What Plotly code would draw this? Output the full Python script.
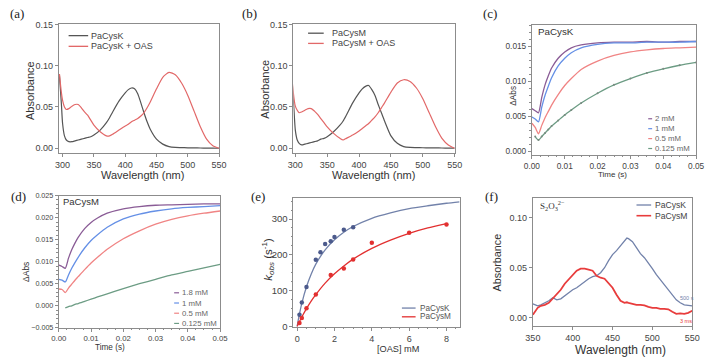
import plotly.graph_objects as go

W, H = 709, 361
FONT = "Liberation Sans, Arial, sans-serif"
SERIF = "Liberation Serif, Times New Roman, serif"

# ---------------- data ----------------
# (a) / (b) absorption spectra
wl_ab = [295, 298, 300, 303, 306, 310, 315, 320, 325, 330, 335, 340, 345, 350, 360, 370, 375, 380, 390, 400,
         405, 410, 415, 420, 425, 430, 435, 440, 450, 460, 470, 480, 490, 500, 510, 520, 530, 540, 550]
cysk_a = [0.088, 0.055, 0.030, 0.015, 0.010, 0.008, 0.008, 0.009, 0.010, 0.011, 0.012, 0.013, 0.014, 0.016, 0.022,
          0.031, 0.037, 0.044, 0.057, 0.067, 0.071, 0.073, 0.072, 0.066, 0.055, 0.043, 0.032, 0.023, 0.011, 0.005,
          0.002, 0.001, 0.0008, 0.0005, 0.0004, 0.0003, 0.0002, 0.0001, 0.0]
cysk_oas_a = [0.090, 0.068, 0.058, 0.050, 0.047, 0.048, 0.051, 0.053, 0.053, 0.049, 0.044, 0.040, 0.034, 0.028, 0.020,
              0.015, 0.015, 0.017, 0.022, 0.027, 0.029, 0.032, 0.034, 0.036, 0.039, 0.043, 0.049, 0.056, 0.072, 0.086,
              0.092, 0.089, 0.079, 0.064, 0.045, 0.026, 0.011, 0.003, 0.0]
cysm_b = [0.082, 0.045, 0.022, 0.010, 0.006, 0.004, 0.005, 0.006, 0.007, 0.008, 0.009, 0.011, 0.012, 0.014, 0.020,
          0.028, 0.033, 0.040, 0.055, 0.067, 0.072, 0.075, 0.076, 0.071, 0.064, 0.053, 0.043, 0.033, 0.015, 0.006,
          0.002, 0.001, 0.0008, 0.0006, 0.0005, 0.0004, 0.0003, 0.0002, 0.0001]
cysm_oas_b = [0.082, 0.060, 0.051, 0.046, 0.043, 0.044, 0.046, 0.048, 0.048, 0.045, 0.041, 0.036, 0.031, 0.026, 0.018,
              0.012, 0.010, 0.012, 0.016, 0.021, 0.024, 0.027, 0.030, 0.034, 0.038, 0.043, 0.049, 0.055, 0.068, 0.079,
              0.083, 0.081, 0.073, 0.060, 0.043, 0.026, 0.012, 0.004, 0.0]

# (c) / (d) stopped-flow kinetics
t_kin = [0, 0.001, 0.002, 0.003, 0.004, 0.005, 0.006, 0.008, 0.010, 0.012, 0.015, 0.020, 0.025, 0.030, 0.035,
         0.040, 0.045, 0.050]
c_labels = ["2 mM", "1 mM", "0.5 mM", "0.125 mM"]
c_2mM = [0.0061, 0.0058, 0.0055, 0.0077, 0.0095, 0.0108, 0.0119, 0.0133, 0.0142, 0.0148, 0.0152, 0.0155, 0.0156,
         0.0156, 0.0157, 0.0156, 0.0157, 0.0157]
c_1mM = [0.0049, 0.0046, 0.0042, 0.0063, 0.0080, 0.0093, 0.0105, 0.0122, 0.0133, 0.0141, 0.0148, 0.0153, 0.0155,
         0.0155, 0.0156, 0.0156, 0.0156, 0.0157]
c_05mM = [0.0040, 0.0034, 0.0025, 0.0037, 0.0048, 0.0057, 0.0066, 0.0081, 0.0094, 0.0104, 0.0117, 0.0129, 0.0137,
          0.0142, 0.0145, 0.0147, 0.0148, 0.0149]
c_0125mM = [None, 0.0021, 0.0016, 0.0021, 0.0026, 0.0031, 0.0036, 0.0044, 0.0052, 0.0059, 0.0069, 0.0083, 0.0095,
            0.0104, 0.0112, 0.0118, 0.0123, 0.0127]
d_labels = ["1.8 mM", "1 mM", "0.5 mM", "0.125 mM"]
d_18mM = [0.0092, 0.0089, 0.0085, 0.0108, 0.0127, 0.0142, 0.0155, 0.0175, 0.0189, 0.0199, 0.0210, 0.0220, 0.0225,
          0.0228, 0.0229, 0.0230, 0.0231, 0.0231]
d_1mM = [0.0060, 0.0058, 0.0054, 0.0070, 0.0085, 0.0098, 0.0110, 0.0131, 0.0148, 0.0161, 0.0178, 0.0197, 0.0208,
         0.0215, 0.0220, 0.0223, 0.0225, 0.0227]
d_05mM = [0.0038, 0.0037, 0.0030, 0.0040, 0.0049, 0.0058, 0.0066, 0.0082, 0.0097, 0.0110, 0.0128, 0.0152, 0.0170,
          0.0185, 0.0196, 0.0204, 0.0210, 0.0215]
d_0125mM = [None, None, -0.0005, -0.0002, 0.0000, 0.0003, 0.0005, 0.0010, 0.0015, 0.0020, 0.0027, 0.0039, 0.0050,
            0.0060, 0.0070, 0.0078, 0.0086, 0.0094]

# (e) kobs vs [OAS]
oas_k = [0.125, 0.25, 0.5, 1.0, 1.25, 1.5, 1.8, 2.0, 2.5, 3.0]
kobs_k = [33, 67, 110, 186, 207, 230, 238, 250, 270, 277]
oas_m = [0.125, 0.25, 0.5, 1.0, 1.8, 2.5, 3.0, 4.0, 6.0, 8.0]
kobs_m = [10, 24, 51, 89, 144, 162, 187, 234, 262, 285]
fit_x_k = [0, 0.1, 0.25, 0.5, 0.75, 1, 1.5, 2, 2.5, 3, 4, 5, 6, 7, 8, 8.7]
fit_y_k = [0, 28.6, 64.5, 111, 146, 174, 214, 242, 263, 279, 302, 317, 329, 337, 344, 348]
fit_x_m = [0, 0.1, 0.25, 0.5, 0.75, 1, 1.5, 2, 2.5, 3, 4, 5, 6, 7, 8]
fit_y_m = [0, 11, 26.6, 50, 71, 89, 121, 147, 169, 188, 218, 241, 260, 275, 287]

# (f) thiosulfate spectra
wl_f = [350, 353, 356, 360, 365, 370, 375, 380, 385, 390, 395, 400, 405, 410, 415, 420, 425, 430, 435, 440, 445,
        450, 455, 460, 465, 468, 470, 475, 480, 485, 490, 495, 500, 505, 510, 515, 520, 525, 530, 535, 540, 545, 550]
f_cysk = [0.014, 0.013, 0.012, 0.013, 0.015, 0.017, 0.020, 0.018, 0.019, 0.022, 0.025, 0.028, 0.030, 0.033, 0.036,
          0.039, 0.041, 0.042, 0.045, 0.050, 0.057, 0.063, 0.067, 0.072, 0.077, 0.0795, 0.079, 0.076, 0.070, 0.064,
          0.060, 0.055, 0.049, 0.043, 0.038, 0.032, 0.027, 0.022, 0.018, 0.015, 0.013, 0.0125, 0.012]
f_cysm = [0.003, 0.007, 0.010, 0.012, 0.013, 0.015, 0.019, 0.024, 0.028, 0.034, 0.038, 0.043, 0.047, 0.049, 0.049,
          0.048, 0.047, 0.042, 0.040, 0.039, 0.035, 0.030, 0.023, 0.017, 0.015, 0.0155, 0.015, 0.014, 0.013, 0.013,
          0.0125, 0.011, 0.010, 0.010, 0.009, 0.009, 0.0085, 0.006, 0.004, 0.0045, 0.004, 0.005, 0.007]

# ---------------- styles ----------------
GRAY_LINE = "#555555"
RED_LINE = "#e26868"
KIN_COLORS = ["#8a5c96", "#6590e6", "#f08484", "#6c9c84"]
SLATE = "#7282aa"
SLATE_DARK = "#4c5a8c"
RED_E = "#e23030"
RED_F = "#e83c3c"
FRAME = "#8c8c8c"

panels = {
    1: (52, 216, 20, 152),
    2: (292, 457, 20, 152),
    3: (536, 704, 21, 154),
    4: (52, 217, 196, 332),
    5: (292, 462, 198, 331),
    6: (537, 700, 198, 330),
}


def px(x):
    return x / W


def py(y):
    return 1 - y / H


fig = go.Figure()


def add_line(n, x, y, color, width=1.2, shape="spline", name=""):
    sfx = "" if n == 1 else str(n)
    fig.add_trace(go.Scatter(x=x, y=y, mode="lines", name=name, showlegend=False,
                             line=dict(color=color, width=width, shape=shape, smoothing=0.6),
                             xaxis="x" + sfx, yaxis="y" + sfx, connectgaps=False))


# (a)
add_line(1, wl_ab, cysk_a, GRAY_LINE, name="PaCysK")
add_line(1, wl_ab, cysk_oas_a, RED_LINE, name="PaCysK + OAS")
# (b)
add_line(2, wl_ab, cysm_b, GRAY_LINE, name="PaCysM")
add_line(2, wl_ab, cysm_oas_b, RED_LINE, name="PaCysM + OAS")
# (c)
for series, col in zip([c_2mM, c_1mM, c_05mM, c_0125mM], KIN_COLORS):
    add_line(3, t_kin, series, col, width=1.3)
fig.add_trace(go.Scatter(x=t_kin, y=c_0125mM, mode="markers", showlegend=False,
                         marker=dict(size=2, color="#7a8a80"), xaxis="x3", yaxis="y3"))
# (d)
for series, col in zip([d_18mM, d_1mM, d_05mM, d_0125mM], KIN_COLORS):
    add_line(4, t_kin, series, col, width=1.3)
# (e)
add_line(5, fit_x_k, fit_y_k, SLATE, width=1.3)
add_line(5, fit_x_m, fit_y_m, RED_E, width=1.3)
fig.add_trace(go.Scatter(x=oas_k, y=kobs_k, mode="markers", showlegend=False,
                         marker=dict(size=4.5, color=SLATE_DARK), xaxis="x5", yaxis="y5"))
fig.add_trace(go.Scatter(x=oas_m, y=kobs_m, mode="markers", showlegend=False,
                         marker=dict(size=4.5, color=RED_E), xaxis="x5", yaxis="y5"))
# (f)
add_line(6, wl_f, f_cysk, SLATE, width=1.3, shape="linear")
add_line(6, wl_f, f_cysm, RED_F, width=1.8, shape="linear")


# ---------------- axes ----------------
def axis(n, rng, dtick, fmt, size, minor=None, which="x"):
    x0, x1, y0, y1 = panels[n]
    sfx = "" if n == 1 else str(n)
    d = dict(range=rng, dtick=dtick, tickformat=fmt, showline=True, mirror=True, linecolor=FRAME,
             linewidth=1, ticks="outside", ticklen=3, tickcolor=FRAME, tickwidth=1,
             tickfont=dict(family=FONT, size=size, color="#444"), showgrid=False, zeroline=False)
    if minor:
        d["minor"] = dict(dtick=minor, ticks="outside", ticklen=1.5, tickcolor=FRAME)
    if which == "x":
        d["domain"] = [px(x0), px(x1)]
        d["anchor"] = "y" + sfx
        fig.layout["xaxis" + sfx] = d
    else:
        d["domain"] = [py(y1), py(y0)]
        d["anchor"] = "x" + sfx
        fig.layout["yaxis" + sfx] = d


axis(1, [294, 550], 50, "d", 9)
axis(1, [-0.0055, 0.15], 0.05, ".2f", 9, which="y")
axis(2, [297, 550], 50, "d", 9)
axis(2, [-0.0055, 0.15], 0.05, ".2f", 9, which="y")
axis(3, [0, 0.05], 0.01, ".2f", 8.3, minor=0.0025)
axis(3, [-0.0005, 0.018], 0.005, ".3f", 8.3, minor=0.001, which="y")
axis(4, [0, 0.05], 0.01, ".2f", 7.8, minor=0.0025)
axis(4, [-0.005, 0.025], 0.005, ".3f", 7.2, minor=0.001, which="y")
axis(5, [-0.2, 8.7], 2, "d", 9, minor=0.5)
axis(5, [-1, 360], 100, "d", 9.5, minor=25, which="y")
axis(6, [350, 550], 50, "d", 9)
axis(6, [-0.008, 0.12], 0.05, ".2f", 9, which="y")

ann = []
shapes = []


def text(x, y, s, size, color="#333", xanchor="center", family=FONT, angle=0):
    ann.append(dict(x=px(x), y=py(y), xref="paper", yref="paper", text=s, showarrow=False,
                    xanchor=xanchor, yanchor="middle", textangle=angle, borderpad=0,
                    font=dict(family=family, size=size, color=color)))


def legend_row(x0, x1, xt, y, label, color, size, width=1.3, tcolor="#444"):
    shapes.append(dict(type="line", xref="paper", yref="paper", x0=px(x0), x1=px(x1), y0=py(y), y1=py(y),
                       line=dict(color=color, width=width)))
    text(xt, y, label, size, color=tcolor, xanchor="left")


# panel letters
for lab, (x, y) in {"(a)": (9, 9), "(b)": (247, 9), "(c)": (493, 9), "(d)": (11, 197), "(e)": (256, 197),
                    "(f)": (495, 197)}.items():
    text(x, y, lab, 13, color="#222", family=SERIF)

# axis titles
text(22, 88, "Absorbance", 11, angle=-90)
text(138, 175, "Wavelength (nm)", 11)
text(263, 87, "Absorbance", 11, angle=-90)
text(374, 175, "Wavelength (nm)", 11)
text(517, 93, "ΔAbs", 8.3, angle=-90)
text(618, 174, "Time (s)", 8)
text(19, 275, "ΔAbs", 8.5, angle=-90)
text(104, 352.5, "Time (s)", 8.2)
text(266, 261, "<i>k</i><sub><i>obs</i></sub> (s<sup>-1</sup>)", 11.5, angle=-90)
text(399, 353.5, "[OAS] mM", 9.2)
text(500, 265, "Absorbance", 10.8, angle=-90)
text(627, 355, "Wavelength (nm)", 12)

# legends
legend_row(62, 82, 84, 31.5, "PaCysK", GRAY_LINE, 9)
legend_row(62, 82, 84, 42.5, "PaCysK + OAS", RED_LINE, 9)
legend_row(307, 323, 330, 29, "PaCysM", GRAY_LINE, 9)
legend_row(307, 323, 330, 39.5, "PaCysM + OAS", RED_LINE, 9)
for i, (lab, col) in enumerate(zip(c_labels, KIN_COLORS)):
    legend_row(655, 659, 661, 117 + 10.2 * i, lab, col, 7.8, width=1.2, tcolor="#666")
for i, (lab, col) in enumerate(zip(d_labels, KIN_COLORS)):
    legend_row(170, 175, 177, 296 + 10.5 * i, lab, col, 7.8, width=1.2, tcolor="#666")
legend_row(403, 417, 420, 311.7, "PaCysK", SLATE, 8.2, tcolor="#555")
legend_row(403, 417, 420, 320.7, "PaCysM", RED_E, 8.2, tcolor="#555")
legend_row(643, 658, 661, 205.7, "PaCysK", SLATE, 8.6, tcolor="#444")
legend_row(643, 658, 661, 216.7, "PaCysM", RED_F, 8.6, width=1.6, tcolor="#444")

# in-plot labels
text(541, 27, "PaCysK", 9.8, color="#333", xanchor="left")
text(55, 202, "PaCysM", 9.5, color="#333", xanchor="left")
text(543, 206, "S<sub>2</sub>O<sub>3</sub><sup>2−</sup>", 9, color="#333", xanchor="left", family=SERIF)
text(687, 301.5, "500 s", 5.5, color=SLATE, xanchor="left")
text(687, 324.5, "3 ms", 5.5, color=RED_F, xanchor="left")

fig.update_layout(width=W, height=H, margin=dict(l=0, r=0, t=0, b=0), paper_bgcolor="white",
                  plot_bgcolor="white", showlegend=False, annotations=ann, shapes=shapes,
                  font=dict(family=FONT))

fig.write_html("out.html")
